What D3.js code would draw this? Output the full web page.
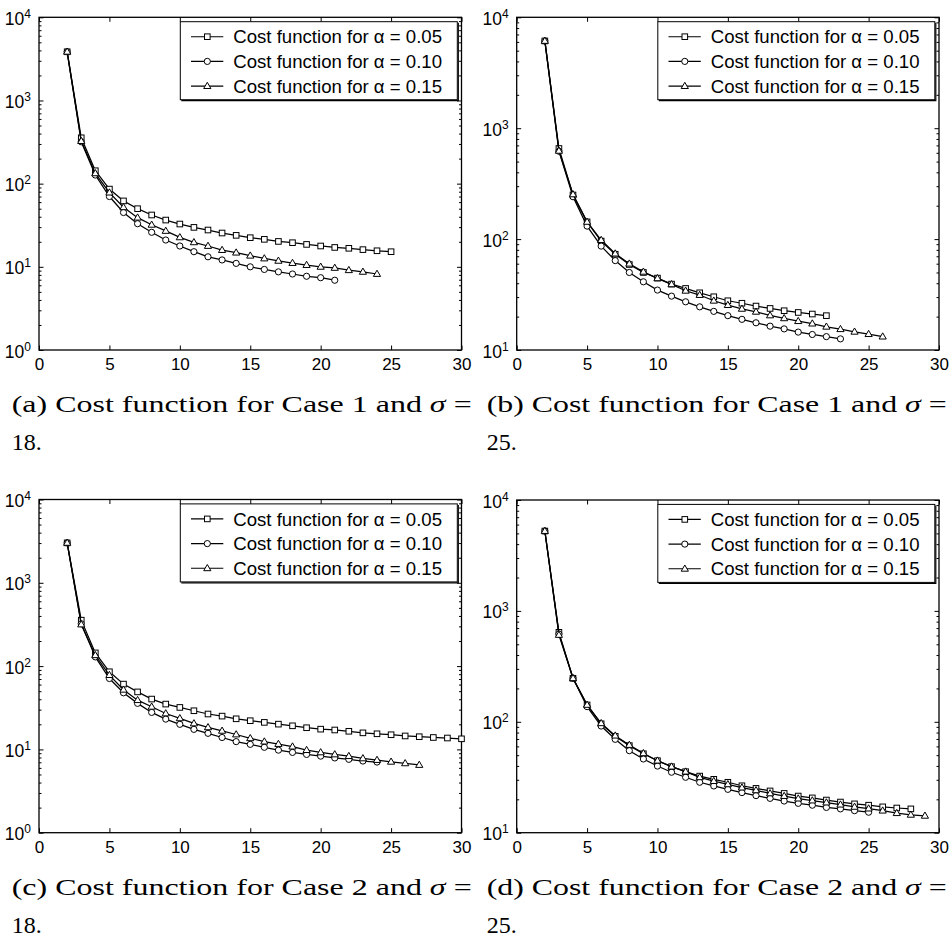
<!DOCTYPE html>
<html>
<head>
<meta charset="utf-8">
<script src="https://cdn.jsdelivr.net/npm/d3@7"></script>
<style>
  body { margin: 0; background: #fff; }
  svg { display: block; }
  .tick text { font-family: "Liberation Sans", Arial, sans-serif; font-size: 17px; fill: #000; }
  .tick line { stroke: #000; stroke-width: 1; }
</style>
</head>
<body>
<script>
// x values start at 2 for every series
var xStart = 2;
var xTicks = [0, 5, 10, 15, 20, 25, 30];
var alphaLabels = ["0.05", "0.10", "0.15"];

// (a) Case 1, sigma = 18
var a05 = [3850, 356, 143, 86, 62, 50, 42, 36.5, 32.7, 29.8, 27.7, 25.5, 23.9, 22.4, 21.4, 20.2, 19.5, 18.6, 17.8, 17.1, 16.7, 16.1, 15.6, 15.2];
var a10 = [3850, 319, 127, 70, 45, 33, 26, 21, 17.8, 15.2, 13.2, 12.1, 11.0, 10.0, 9.3, 8.7, 8.2, 7.7, 7.4, 6.9];
var a15 = [3850, 325, 133, 78, 52, 39, 32, 27, 22.6, 19.7, 17.8, 15.9, 14.8, 13.6, 12.6, 11.8, 11.1, 10.5, 10.0, 9.7, 9.1, 8.7, 8.2];

// (b) Case 1, sigma = 25
var b05 = [6120, 656, 250, 143, 96, 73, 59, 50, 44.5, 39.3, 35.9, 32.8, 30.2, 27.8, 26.4, 24.9, 23.7, 22.6, 21.8, 21.1, 20.4];
var b10 = [6120, 620, 241, 131, 86.5, 64, 50, 41.2, 34.7, 30.6, 27.2, 24.5, 22.3, 20.4, 18.9, 17.6, 16.4, 15.5, 14.5, 13.8, 13.2, 12.6];
var b15 = [6120, 625, 253, 143, 98, 74, 60, 50.7, 44.3, 39.1, 34.2, 31.3, 27.8, 25.4, 23.5, 22.1, 20.5, 19.3, 18.2, 17.3, 16.2, 15.4, 14.6, 13.9, 13.2];

// (c) Case 2, sigma = 18
var c05 = [3015, 356, 144, 85.5, 60.8, 49, 40.2, 35, 31.9, 29.1, 26.6, 25.1, 23.3, 22.1, 21.1, 20.1, 19.2, 18.2, 17.5, 17.1, 16.5, 15.8, 15.4, 15.0, 14.5, 14.2, 13.9, 13.7, 13.4];
var c10 = [3015, 322, 129, 71, 47.8, 35.7, 27.8, 23.1, 20, 17.4, 15.6, 13.9, 12.4, 11.5, 10.6, 9.8, 9.2, 8.7, 8.3, 7.9, 7.6, 7.25, 7.05];
var c15 = [3015, 316, 135, 78, 52, 39, 32.5, 27, 23.6, 20.5, 18.4, 16.7, 15.1, 13.6, 12.4, 11.6, 10.8, 9.8, 9.2, 8.7, 8.3, 7.8, 7.45, 7.1, 6.8, 6.5];

// (d) Case 2, sigma = 25
var d05 = [5250, 641, 247, 142, 96, 74, 61, 51.5, 44.6, 39.4, 35.5, 32.4, 30.3, 28.5, 26.5, 25.1, 23.8, 22.6, 21.4, 20.6, 19.7, 18.9, 18.2, 17.7, 17.1, 16.7, 16.4];
var d10 = [5250, 620, 247, 137, 91.6, 69.5, 54.9, 46.2, 39.9, 35.1, 31.6, 28.5, 26.4, 24.6, 23, 21.6, 20.4, 19.3, 18.4, 17.7, 16.9, 16.4, 15.8, 15.3];
var d15 = [5250, 607, 247, 142, 97, 75, 61.8, 52, 44.6, 39.4, 35.5, 31.6, 29.2, 27.3, 25.5, 24.1, 22.6, 21.4, 20.3, 19.5, 18.7, 17.9, 17.1, 16.5, 15.8, 15.0, 14.5, 14.2];

var captions = [
  ["(a) Cost function for Case 1 and ", "18."],
  ["(b) Cost function for Case 1 and ", "25."],
  ["(c) Cost function for Case 2 and ", "18."],
  ["(d) Cost function for Case 2 and ", "25."]
];

// layout of the four axes boxes
var panels = [
  {left: 39,    right: 461.5, top: 17.3,  bottom: 350,   ymin: 1,  series: [a05, a10, a15], capX: 11.7,  capY: 412},
  {left: 516.7, right: 939,   top: 17.3,  bottom: 350,   ymin: 10, series: [b05, b10, b15], capX: 486.7, capY: 412},
  {left: 39,    right: 461.5, top: 499.5, bottom: 832.7, ymin: 1,  series: [c05, c10, c15], capX: 11.7,  capY: 894.5},
  {left: 516.7, right: 939,   top: 500,   bottom: 832.7, ymin: 10, series: [d05, d10, d15], capX: 486.7, capY: 894.5}
];

var sans = "'Liberation Sans', Arial, sans-serif";
var serif = "'Liberation Serif', 'Times New Roman', serif";

var svg = d3.select("body").append("svg").attr("width", 952).attr("height", 938);

function drawMarker(g, kind, cx, cy) {
  if (kind == 0) {
    g.append("rect").attr("x", cx - 2.8).attr("y", cy - 2.8).attr("width", 5.6).attr("height", 5.6)
      .attr("fill", "#fff").attr("stroke", "#000").attr("stroke-width", 1);
  } else if (kind == 1) {
    g.append("circle").attr("cx", cx).attr("cy", cy).attr("r", 3.1)
      .attr("fill", "#fff").attr("stroke", "#000").attr("stroke-width", 1);
  } else {
    g.append("path").attr("d", "M" + cx + "," + (cy - 3.8) + "L" + (cx + 3.6) + "," + (cy + 2.4) + "L" + (cx - 3.6) + "," + (cy + 2.4) + "Z")
      .attr("fill", "#fff").attr("stroke", "#000").attr("stroke-width", 1);
  }
}

panels.forEach(function(p, pi) {
  var x = d3.scaleLinear().domain([0, 30]).range([p.left, p.right]);
  var y = d3.scaleLog().domain([p.ymin, 1e4]).range([p.bottom, p.top]);
  var g = svg.append("g");

  var decades = [];
  var minors = [];
  for (var e = Math.log10(p.ymin); e <= 4; e++) {
    decades.push(Math.pow(10, e));
    if (e < 4) for (var m = 2; m <= 9; m++) minors.push(m * Math.pow(10, e));
  }

  // frame
  g.append("rect").attr("x", p.left).attr("y", p.top)
    .attr("width", p.right - p.left).attr("height", p.bottom - p.top)
    .attr("fill", "none").attr("stroke", "#000").attr("stroke-width", 1.3);

  // x ticks, bottom and top (inward)
  g.append("g").attr("transform", "translate(0," + p.bottom + ")")
    .call(d3.axisBottom(x).tickValues(xTicks).tickSize(-4.5).tickPadding(8))
    .call(function(a) { a.select(".domain").remove(); })
    .attr("font-family", sans).attr("font-size", 17);
  g.append("g").attr("transform", "translate(0," + p.top + ")")
    .call(d3.axisTop(x).tickValues(xTicks).tickSize(-4.5).tickFormat(""))
    .call(function(a) { a.select(".domain").remove(); });

  // y ticks, left and right (inward), major and minor
  g.append("g").attr("transform", "translate(" + p.left + ",0)")
    .call(d3.axisLeft(y).tickValues(decades).tickSize(-4.5).tickFormat(""))
    .call(function(a) { a.select(".domain").remove(); });
  g.append("g").attr("transform", "translate(" + p.left + ",0)")
    .call(d3.axisLeft(y).tickValues(minors).tickSize(-2.5).tickFormat(""))
    .call(function(a) { a.select(".domain").remove(); });
  g.append("g").attr("transform", "translate(" + p.right + ",0)")
    .call(d3.axisRight(y).tickValues(decades).tickSize(-4.5).tickFormat(""))
    .call(function(a) { a.select(".domain").remove(); });
  g.append("g").attr("transform", "translate(" + p.right + ",0)")
    .call(d3.axisRight(y).tickValues(minors).tickSize(-2.5).tickFormat(""))
    .call(function(a) { a.select(".domain").remove(); });

  // y labels 10^n
  decades.forEach(function(d) {
    var t = g.append("text").attr("x", p.left - 8).attr("y", y(d) + 7.5)
      .attr("text-anchor", "end")
      .style("font-family", sans).style("font-size", "17.5px");
    t.append("tspan").text("10");
    t.append("tspan").attr("dy", -7).style("font-size", "12px").text(Math.round(Math.log10(d)));
  });

  // series
  var line = d3.line().x(function(d, i) { return x(i + xStart); }).y(function(d) { return y(d); });
  p.series.forEach(function(s, si) {
    g.append("path").datum(s).attr("d", line)
      .attr("fill", "none").attr("stroke", "#000").attr("stroke-width", 1.25);
    var mg = g.append("g");
    s.forEach(function(v, i) { drawMarker(mg, si, x(i + xStart), y(v)); });
  });

  // legend
  var lw = 277, lh = 78;
  var lx = p.right - 4.2 - lw, ly = p.top + 4.4;
  var lg = g.append("g");
  lg.append("path").attr("d", "M" + (lx + lw + 1) + "," + (ly + 1) + "V" + (ly + lh + 1) + "H" + (lx + 1))
    .attr("fill", "none").attr("stroke", "#000").attr("stroke-width", 1.2);
  lg.append("rect").attr("x", lx).attr("y", ly).attr("width", lw).attr("height", lh)
    .attr("fill", "#fff").attr("stroke", "#000").attr("stroke-width", 1);
  alphaLabels.forEach(function(a, i) {
    var cy = ly + 15 + i * 24.7;
    lg.append("line").attr("x1", lx + 10.7).attr("x2", lx + 43).attr("y1", cy).attr("y2", cy)
      .attr("stroke", "#000").attr("stroke-width", 1.1);
    drawMarker(lg, i, lx + 27, cy);
    lg.append("text").attr("x", lx + 53).attr("y", cy + 6.6)
      .style("font-family", sans).style("font-size", "18.6px")
      .text("Cost function for \u03b1 = " + a);
  });

  // caption (two lines, as wrapped in the paper)
  var cap = g.append("text").attr("x", p.capX).attr("y", p.capY)
    .attr("textLength", 460).attr("lengthAdjust", "spacingAndGlyphs")
    .style("font-family", serif).style("font-size", "23px");
  cap.append("tspan").text(captions[pi][0]);
  cap.append("tspan").style("font-style", "italic").text("\u03c3");
  cap.append("tspan").text(" =");
  g.append("text").attr("x", p.capX).attr("y", p.capY + 38)
    .attr("textLength", 30).attr("lengthAdjust", "spacingAndGlyphs")
    .style("font-family", serif).style("font-size", "23px")
    .text(captions[pi][1]);
});
</script>
</body>
</html>
